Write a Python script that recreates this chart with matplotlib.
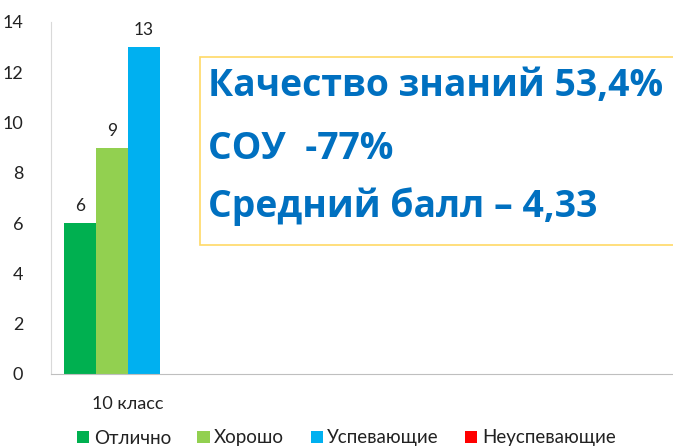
import matplotlib
matplotlib.use("Agg")
import matplotlib.pyplot as plt
from matplotlib.patches import Rectangle, Patch

categories = ["10 класс"]
series_names = ["Отлично", "Хорошо", "Успевающие", "Неуспевающие"]
series_values = [[6], [9], [13], [0]]
colors = ["#00B050", "#92D050", "#00B0F0", "#FF0000"]
yticks = [0, 2, 4, 6, 8, 10, 12, 14]
info_lines = ["Качество знаний 53,4%", "СОУ  -77%", "Средний балл – 4,33"]

plt.rcParams['font.family'] = ['Lato', 'DejaVu Sans']

fig = plt.figure(figsize=(6.73, 4.46), dpi=100)
ax = fig.add_axes([51/673, 1-374/446, 1-51/673, (374-22)/446])

w = 0.2
offsets = [-0.3, -0.1, 0.1, 0.3]
for name, vals, col, off in zip(series_names, series_values, colors, offsets):
    xs = [i + off for i in range(len(categories))]
    bars = ax.bar(xs, vals, width=w, color=col, label=name)
    for b, v in zip(bars, vals):
        if v > 0:
            ax.text(b.get_x() + b.get_width()/2, v + 0.35, str(v), ha='center', va='bottom',
                    fontsize=12.5, color='#222222')

ax.set_xlim(-0.48, 3.4)
ax.set_ylim(0, 14)
ax.set_yticks(yticks)
ax.set_yticklabels([str(t) for t in yticks], fontsize=13, color='#222222')
ax.set_xticks(range(len(categories)))
ax.set_xticklabels(categories, fontsize=13, color='#222222')
ax.tick_params(axis='both', length=0)
ax.tick_params(axis='y', pad=20)
ax.tick_params(axis='x', pad=16)
for s in ['top', 'right']:
    ax.spines[s].set_visible(False)
ax.spines['left'].set_color('#D9D9D9')
ax.spines['bottom'].set_color('#BFBFBF')

# info box
box = Rectangle((200/673, 1-245/446), (700-200)/673, (245-57)/446, transform=fig.transFigure,
                facecolor='white', edgecolor='#FFD966', linewidth=1.2, zorder=5)
fig.patches.append(box)
ys = [86, 149, 207]
for t, yy in zip(info_lines, ys):
    fig.text(208/673, 1-yy/446, t, fontsize=26.9, fontweight='bold', color='#0070C0',
             family=['Open Sans', 'DejaVu Sans'],
             ha='left', va='center', zorder=6)

handles = [Patch(facecolor=c, label=n) for n, c in zip(series_names, colors)]
fig.legend(handles=handles, loc='center left', bbox_to_anchor=(77/673, 1-438/446), ncol=4,
           frameon=False, fontsize=13.5, handlelength=0.65, handleheight=0.65,
           handletextpad=0.25, columnspacing=1.4, borderpad=0, borderaxespad=0,
           labelcolor='#222222')

fig.savefig("out.png", dpi=100)
